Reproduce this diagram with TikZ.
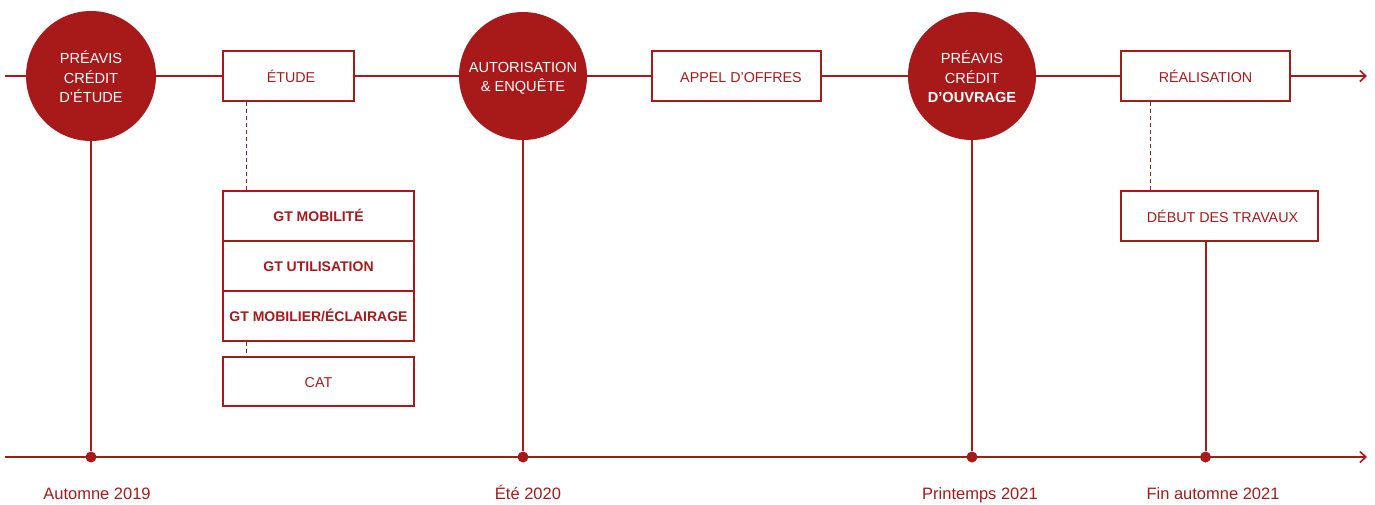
\documentclass[tikz,border=0pt]{standalone}
\usepackage{fontspec}
\setmainfont{Liberation Sans}
\usetikzlibrary{arrows.meta}
\definecolor{rouge}{HTML}{A8191A}
\begin{document}
\begin{tikzpicture}[x=1pt,y=-1pt,
  axe/.style={draw=rouge,line width=2pt},
  fleche/.style={axe,-{Straight Barb[length=6pt,width=11pt,line width=1.6pt]}},
  pointille/.style={draw=rouge,line width=1.2pt,dash pattern=on 4pt off 3pt},
  jalon/.style={circle,fill=rouge,minimum size=130pt,inner sep=0pt},
  jtexte/.style={text=white,font=\fontsize{14.6}{19.5}\selectfont,align=center,inner sep=0pt},
  boite/.style={draw=rouge,line width=1.5pt,fill=white,text=rouge,minimum height=50pt,
    inner sep=0pt,text height=12pt,text depth=0pt,font=\fontsize{14.3}{17}\selectfont},
  btexte/.style={text=rouge,inner sep=0pt,text height=12pt,text depth=0pt,
    font=\fontsize{14.3}{17}\selectfont},
  gt/.style={boite,minimum width=191pt,text height=10pt,font=\bfseries\fontsize{14}{17}\selectfont},
  pastille/.style={circle,fill=rouge,minimum size=11pt,inner sep=0pt},
  date/.style={text=rouge,font=\fontsize{16.5}{20}\selectfont,inner sep=0pt,
    text height=11.8pt,text depth=0pt}
]
\useasboundingbox (0,0) rectangle (1375,504);
\coordinate (tl) at (5,76);
\coordinate (tr) at (1367,76);
\coordinate (bl) at (5,457);
\coordinate (br) at (1367,457);

\node[jalon,label={[jtexte,yshift=-1pt]center:PRÉAVIS\\CRÉDIT\\D’ÉTUDE}] (c1) at (91,76) {};
\node[boite,minimum width=131pt,label={[btexte,xshift=2.5pt]center:ÉTUDE}] (etude) at (288.5,76) {};
\node[jalon,minimum size=128pt,label={[jtexte,yshift=-2.5pt]center:AUTORISATION\\\& ENQUÊTE}] (c2) at (523,76) {};
\node[boite,minimum width=169pt,label={[btexte,xshift=4.5pt]center:APPEL D’OFFRES}] (ao) at (736.5,76) {};
\node[jalon,minimum size=128pt,label={[jtexte,yshift=-1pt]center:PRÉAVIS\\CRÉDIT\\\textbf{D’OUVRAGE}}] (c3) at (972,76) {};
\node[boite,minimum width=169pt] (real) at (1205.5,76) {RÉALISATION};
\node[boite,minimum width=197pt,label={[btexte,xshift=3pt]center:DÉBUT DES TRAVAUX}] (debut) at (1219.5,216) {};

\node[gt] (gt1) at (318.5,216) {GT MOBILITÉ};
\node[gt] (gt2) at (318.5,266) {GT UTILISATION};
\node[gt] (gt3) at (318.5,316) {GT MOBILIER/ÉCLAIRAGE};
\node[boite,minimum width=191pt,minimum height=49pt] (cat) at (318.5,381.5) {CAT};

\draw[axe] (tl) -- (c1) -- (etude) -- (c2) -- (ao) -- (c3) -- (real);
\draw[fleche] (real) -- (tr);
\draw[fleche] (bl) -- (br);

\node[pastille] (d1) at (91,457) {};
\node[pastille] (d2) at (523,457) {};
\node[pastille] (d3) at (972,457) {};
\node[pastille] (d4) at (1205.5,457) {};

\draw[axe] (c1) -- (d1);
\draw[axe] (c2) -- (d2);
\draw[axe] (c3) -- (d3);
\draw[axe] (debut.south -| d4) -- (d4);

\draw[pointille] ([xshift=24pt]etude.south west) -- ([xshift=24pt]gt1.north west);
\draw[pointille] ([xshift=24pt]gt3.south west) -- ([xshift=24pt]cat.north west);
\draw[pointille] ([xshift=30pt]real.south west) -- ([xshift=30pt]debut.north west);

\node[date] (l1) at (97,494) {Automne 2019};
\node[date] (l2) at (528,494) {Été 2020};
\node[date] (l3) at (980,494) {Printemps 2021};
\node[date] (l4) at (1213,494) {Fin automne 2021};
\end{tikzpicture}
\end{document}
